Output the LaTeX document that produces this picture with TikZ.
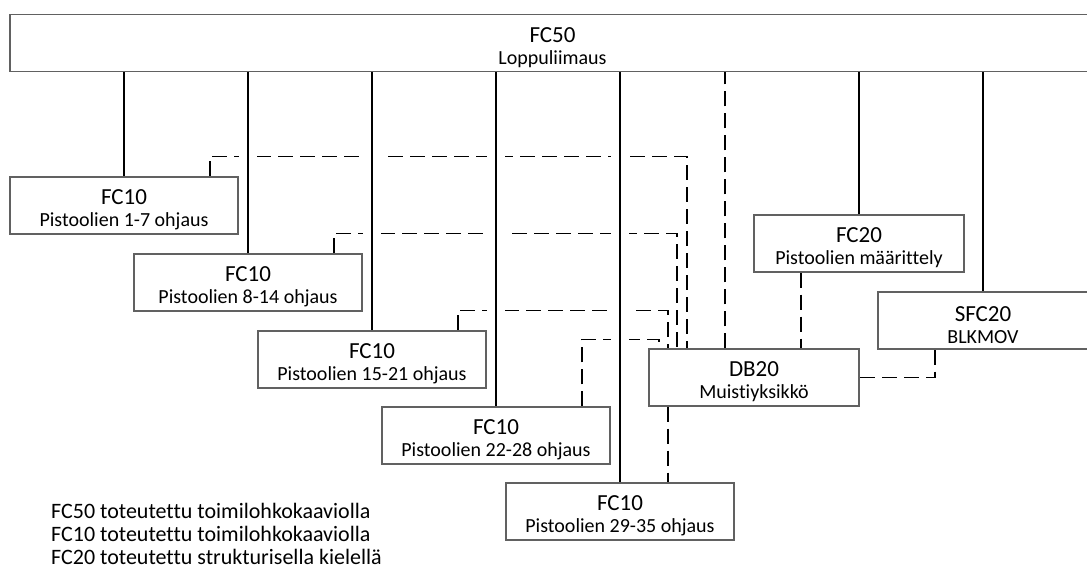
\documentclass[tikz,border=0pt]{standalone}
\usepackage{fontspec}
\setmainfont{Carlito}[Ligatures=NoCommon]
\usetikzlibrary{backgrounds}
\newcommand\bxtxt[2]{\rule{0pt}{24pt}{\fontsize{23}{22}\selectfont #1}\\#2}
\begin{document}
\begin{tikzpicture}[x=1pt,y=-1pt,
  box/.style={draw=black!62, line width=1.1pt, fill=white, align=center, inner sep=0pt, minimum height=57pt, font=\fontsize{20}{22}\selectfont},
  wbox/.style={box, minimum width=228pt},
  nbox/.style={box, minimum width=210pt},
  conn/.style={draw=black, line width=1.6pt, preaction={draw=white, line width=18pt}},
  dashline/.style={draw=black, line width=1.7pt, dash pattern=on 15pt off 7pt},
  legendtxt/.style={anchor=base west, inner sep=0pt, font=\fontsize{22}{23}\selectfont}
]
\useasboundingbox (0,0) rectangle (1087,568);

% boxes
\node[box, minimum width=1085pt] (top) at (552.5,43) {\bxtxt{FC50}{Loppuliimaus}};
\node[wbox] (fc1) at (124,205.5) {\bxtxt{FC10}{Pistoolien 1-7 ohjaus}};
\node[wbox] (fc2) at (248,282.5) {\bxtxt{FC10}{Pistoolien 8-14 ohjaus}};
\node[wbox] (fc3) at (372,359.5) {\bxtxt{FC10}{Pistoolien 15-21 ohjaus}};
\node[wbox] (fc4) at (496,435.5) {\bxtxt{FC10}{Pistoolien 22-28 ohjaus}};
\node[wbox] (fc5) at (620,511.5) {\bxtxt{FC10}{Pistoolien 29-35 ohjaus}};
\node[nbox] (db) at (754,377.5) {\bxtxt{DB20}{Muistiyksikkö}};
\node[nbox] (fc20) at (859,243.5) {\bxtxt{FC20}{Pistoolien määrittely}};
\node[nbox] (sfc) at (983,320.5) {\bxtxt{SFC20}{BLKMOV}};

% legend
\node[legendtxt] (leg1) at (51,518) {FC50 toteutettu toimilohkokaaviolla};
\node[legendtxt] (leg2) at (51,541) {FC10 toteutettu toimilohkokaaviolla};
\node[legendtxt] (leg3) at (51,564) {FC20 toteutettu strukturisella kielellä};

\begin{scope}[on background layer]
  % dashed data links
  \draw[dashline] ([xshift=86pt]fc1.north) -- ++(0,-20) -| ([xshift=-67pt]db.north);
  \draw[dashline] ([xshift=86pt]fc2.north) -- ++(0,-20) -| ([xshift=-77pt]db.north);
  \draw[dashline] ([xshift=86pt]fc3.north) -- ++(0,-20) -| ([xshift=-86pt]db.north);
  \draw[dashline] ([xshift=86pt]fc4.north) -- ++(0,-67) -| ([xshift=-95pt]db.north);
  \draw[dashline] ([xshift=-86pt]db.south) -- ([xshift=-86pt]db.south |- fc5.north);
  \draw[dashline] ([xshift=-58pt]fc20.south) -- ([xshift=-58pt]fc20.south |- db.north);
  \draw[dashline] ([xshift=-29pt]db.north) -- ([xshift=-29pt]db.north |- top.south);
  \draw[dashline] ([xshift=-48pt]sfc.south) |- (db.east);
  % solid calls
  \draw[conn] (fc1.north) -- (fc1.north |- top.south);
  \draw[conn] (fc2.north) -- (fc2.north |- top.south);
  \draw[conn] (fc3.north) -- (fc3.north |- top.south);
  \draw[conn] (fc4.north) -- (fc4.north |- top.south);
  \draw[conn] (fc5.north) -- (fc5.north |- top.south);
  \draw[conn] (fc20.north) -- (fc20.north |- top.south);
  \draw[conn] (sfc.north) -- (sfc.north |- top.south);
\end{scope}
\end{tikzpicture}
\end{document}
